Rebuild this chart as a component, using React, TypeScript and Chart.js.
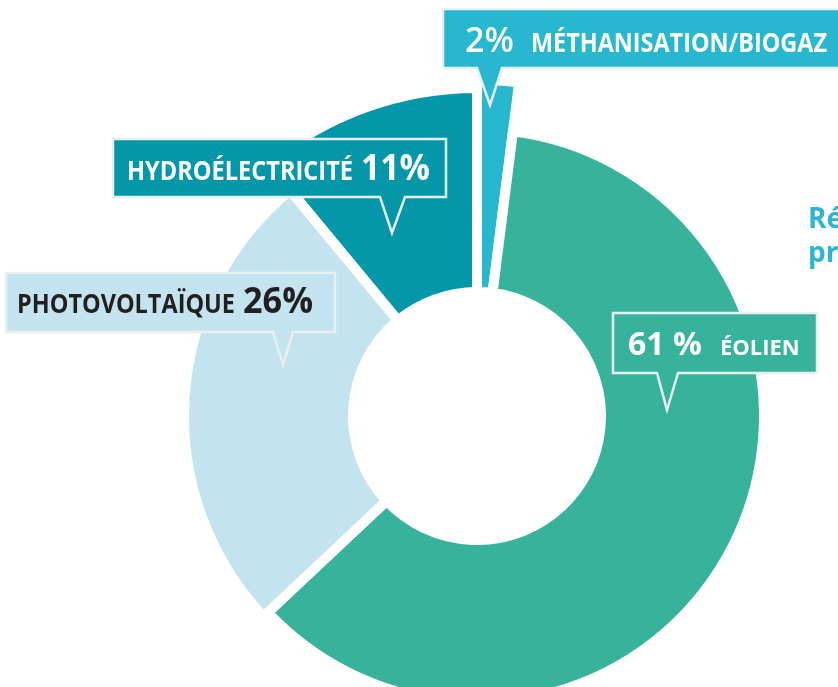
import { useEffect, useRef } from 'react';
import { Chart, registerables } from 'chart.js';

Chart.register(...registerables);

// ---- data ----
const CATEGORIES = ['Méthanisation/Biogaz', 'Éolien', 'Photovoltaïque', 'Hydroélectricité'];
const SHARES = [2, 61, 26, 11];
const TITLE_LINES = ['Répartition de la', 'production'];

// ---- style ----
const COLORS = ['#27b8cf', '#37b39c', '#c3e4ee', '#0397a9'];
const TEXT_COLORS = ['#ffffff', '#ffffff', '#231f20', '#ffffff'];
const RADIUS_SCALE = [1.171, 1.0, 1.021, 1.143];
const FONT = "'Open Sans', 'DejaVu Sans', sans-serif";

type LabelStyle = {
  box: [number, number, number, number]; // left, top, right, bottom (relative to centre)
  tail: [number, number, number, number]; // baseLeft, baseRight, tipX, tipY
  numX: number;
  numW: number;
  numFont: string;
  nameX: number;
  nameW: number;
  nameFont: string;
  baseline: number;
  sep: string;
};

const LABEL_STYLES: LabelStyle[] = [
  {
    box: [-34, -407, 380, -348], tail: [0, 25, 13, -311],
    numX: -12, numW: 56, numFont: `600 34px ${FONT}`,
    nameX: 54, nameW: 296, nameFont: `bold 27px ${FONT}`, baseline: -364, sep: '',
  },
  {
    box: [-364, -277, -31, -219], tail: [-97, -72, -85, -183],
    numX: -116, numW: 69, numFont: `bold 36px ${FONT}`,
    nameX: -350, nameW: 226, nameFont: `bold 27px ${FONT}`, baseline: -236, sep: '',
  },
  {
    box: [-471, -143, -142, -84], tail: [-204, -184, -194, -51],
    numX: -234, numW: 70, numFont: `bold 35px ${FONT}`,
    nameX: -460, nameW: 218, nameFont: `bold 27px ${FONT}`, baseline: -103, sep: '',
  },
  {
    box: [136, -103, 340, -43], tail: [180, 201, 190, -6],
    numX: 151, numW: 79, numFont: `bold 32px ${FONT}`,
    nameX: 243, nameW: 83, nameFont: `bold 22px ${FONT}`, baseline: -61, sep: ' ',
  },
];
// index into LABEL_STYLES for each category (méthanisation, éolien, photovoltaïque, hydro)
const LABEL_ORDER = [0, 3, 2, 1];

const radiusPlugin = {
  id: 'sliceRadius',
  afterDatasetsUpdate(chart: any) {
    const meta = chart.getDatasetMeta(0);
    const base = meta.controller.outerRadius;
    meta.data.forEach((arc: any, i: number) => {
      arc.outerRadius = base * RADIUS_SCALE[i];
    });
  },
};

const labelPlugin = {
  id: 'calloutLabels',
  afterDraw(chart: any) {
    const ctx: CanvasRenderingContext2D = chart.ctx;
    const meta = chart.getDatasetMeta(0);
    const arc0 = meta.data[0];
    const cx = arc0.x;
    const cy = arc0.y;
    ctx.save();
    CATEGORIES.forEach((cat, i) => {
      const s = LABEL_STYLES[LABEL_ORDER[i]];
      const [l, t, r, b] = s.box;
      const [tl, tr, tx, ty] = s.tail;
      ctx.beginPath();
      ctx.moveTo(cx + l, cy + t);
      ctx.lineTo(cx + r, cy + t);
      ctx.lineTo(cx + r, cy + b);
      ctx.lineTo(cx + tr, cy + b);
      ctx.lineTo(cx + tx, cy + ty);
      ctx.lineTo(cx + tl, cy + b);
      ctx.lineTo(cx + l, cy + b);
      ctx.closePath();
      ctx.fillStyle = COLORS[i];
      ctx.fill();
      ctx.lineWidth = 2.5;
      ctx.lineJoin = 'miter';
      ctx.strokeStyle = '#e9eef0';
      ctx.stroke();

      ctx.fillStyle = TEXT_COLORS[i];
      ctx.textBaseline = 'alphabetic';
      ctx.textAlign = 'left';
      const numText = `${SHARES[i]}${s.sep}%`;
      ctx.font = s.numFont;
      ctx.fillText(numText, cx + s.numX, cy + s.baseline, s.numW);
      ctx.font = s.nameFont;
      ctx.fillText(cat.toUpperCase(), cx + s.nameX, cy + s.baseline, s.nameW);
    });

    // title, clipped by the right edge as in the original layout
    ctx.fillStyle = '#2ab5d3';
    ctx.font = `bold 28px ${FONT}`;
    ctx.textAlign = 'left';
    TITLE_LINES.forEach((line, k) => {
      ctx.fillText(line, cx + 331, cy - 188 + k * 34);
    });
    ctx.restore();
  },
};

export default function App() {
  const canvasRef = useRef<HTMLCanvasElement | null>(null);

  useEffect(() => {
    const canvas = canvasRef.current;
    if (!canvas) return;
    const chart = new Chart(canvas, {
      type: 'doughnut',
      data: {
        labels: CATEGORIES,
        datasets: [
          {
            data: SHARES,
            backgroundColor: COLORS,
            borderColor: '#ffffff',
            borderWidth: 10,
            hoverBorderWidth: 10,
            borderJoinStyle: 'miter',
            hoverOffset: 0,
          } as any,
        ],
      },
      options: {
        responsive: false,
        animation: false,
        events: [],
        radius: 287,
        cutout: '43.2%',
        layout: { padding: { left: 116, right: 0, top: 0, bottom: 0 } },
        plugins: {
          legend: { display: false },
          tooltip: { enabled: false },
        },
      } as any,
      plugins: [radiusPlugin, labelPlugin],
    });
    return () => chart.destroy();
  }, []);

  return (
    <div
      style={{
        position: 'absolute',
        left: 0,
        top: 0,
        width: 838,
        height: 687,
        overflow: 'hidden',
        background: '#ffffff',
      }}
    >
      <canvas ref={canvasRef} width={838} height={832} style={{ display: 'block' }} />
    </div>
  );
}
